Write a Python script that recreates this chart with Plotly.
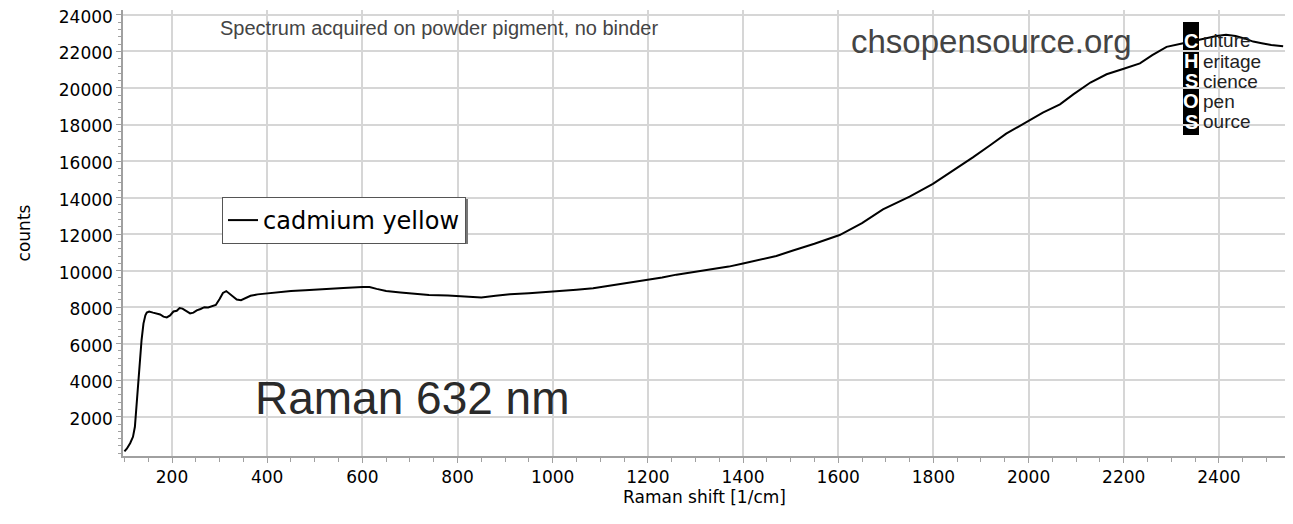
import plotly.graph_objects as go

# ---- data ----
raman_shift = [100, 105, 112, 118, 122, 126, 130, 133, 136, 140, 144, 147, 152, 160, 168, 175, 182, 189,
               196, 203, 210, 216, 222, 230, 238, 245, 252, 260, 268, 276, 284, 292, 300, 307, 314, 320,
               328, 336, 345, 355, 365, 380, 400, 420, 450, 480, 500, 530, 560, 600, 615, 630, 650, 680,
               710, 740, 780, 810, 850, 880, 910, 950, 1000, 1050, 1085, 1120, 1160, 1190, 1230, 1260,
               1295, 1330, 1370, 1400, 1435, 1470, 1505, 1550, 1603, 1650, 1694, 1750, 1799, 1840, 1883,
               1920, 1953, 1980, 2003, 2030, 2066, 2094, 2130, 2164, 2200, 2234, 2260, 2290, 2325, 2350,
               2373, 2395, 2415, 2435, 2455, 2472, 2490, 2510, 2535]
counts = [100, 250, 550, 900, 1450, 2800, 4300, 5400, 6200, 7100, 7550, 7700, 7760, 7700, 7650, 7600, 7480, 7440,
          7550, 7760, 7800, 7950, 7920, 7780, 7660, 7700, 7820, 7900, 8000, 7980, 8040, 8120, 8450, 8780, 8880, 8750,
          8550, 8420, 8380, 8500, 8620, 8700, 8750, 8820, 8880, 8930, 8950, 9000, 9050, 9110, 9100, 9000, 8880, 8800,
          8720, 8660, 8640, 8610, 8530, 8620, 8700, 8760, 8840, 8950, 9030, 9170, 9320, 9470, 9620, 9780,
          9930, 10080, 10220, 10390, 10600, 10800, 11100, 11470, 11950, 12600, 13350, 14050, 14750, 15450, 16200,
          16880, 17500, 17900, 18250, 18650, 19100, 19650, 20300, 20750, 21050, 21350, 21800, 22250, 22450, 22600,
          22720, 22850, 22920, 22850, 22700, 22540, 22450, 22350, 22280]
series_name = "cadmium yellow"
x_ticks = list(range(200, 2401, 200))
y_ticks = list(range(2000, 24001, 2000))

# ---- layout geometry (pixels; page body has an 8px margin) ----
OFF = 8
W, H = 1293 - OFF, 524 - OFF
# plot area in page pixels
PL, PR, PT, PB = 123, 1286, 10, 456
L, R, T, B = PL - OFF, PR - OFF, PT - OFF, PB - OFF


def px(xp):
    return (xp - PL) / (PR - PL)


def py(yp):
    return (PB - yp) / (PB - PT)


fig = go.Figure()
fig.add_trace(go.Scatter(x=raman_shift, y=counts, mode="lines", name=series_name,
                         line=dict(color="black", width=2)))

tick_font = dict(family="DejaVu Sans", size=17, color="black")
fig.update_layout(
    width=W, height=H,
    margin=dict(l=L, r=W - R, t=T, b=H - B, autoexpand=False),
    paper_bgcolor="white", plot_bgcolor="white",
    showlegend=True,
    legend=dict(x=px(222), y=py(197), xanchor="left", yanchor="top",
                bgcolor="white", bordercolor="#555555", borderwidth=1,
                font=dict(family="DejaVu Sans", size=24, color="black"),
                itemwidth=30, tracegroupgap=0),
    xaxis=dict(range=[97, 2541], tickvals=x_ticks, ticktext=[str(v) for v in x_ticks],
               showgrid=True, gridcolor="#d6d6d6", gridwidth=1.5,
               showline=True, linecolor="#a0a0a0", linewidth=1.5,
               ticks="outside", ticklen=5, tickcolor="#a0a0a0",
               minor=dict(dtick=50, ticks="outside", ticklen=4, tickcolor="#a0a0a0", showgrid=False),
               tickfont=tick_font, zeroline=False, automargin=False, ticklabeloverflow="allow",
               title=dict(text="Raman shift [1/cm]", font=dict(family="DejaVu Sans", size=17, color="black"),
                          standoff=5)),
    yaxis=dict(range=[-150, 24270], tickvals=y_ticks, ticktext=[str(v) for v in y_ticks],
               showgrid=True, gridcolor="#d6d6d6", gridwidth=1.5,
               showline=True, linecolor="#a0a0a0", linewidth=1.5,
               ticks="outside", ticklen=5, tickcolor="#a0a0a0",
               minor=dict(dtick=400, ticks="outside", ticklen=3, tickcolor="#a0a0a0", showgrid=False),
               tickfont=tick_font, zeroline=False, automargin=False, ticklabeloverflow="allow",
               ticklabelshift=2,
               title=dict(text="counts", font=dict(family="DejaVu Sans", size=17, color="black"),
                          standoff=24)),
)

# ---- legend shadow (drawn under the legend box) ----
fig.add_shape(type="rect", xref="paper", yref="paper", x0=px(224), x1=px(468), y0=py(244), y1=py(199),
              fillcolor="#777777", line=dict(width=0), layer="above")

# ---- text annotations ----
ann = [
    dict(text="Spectrum acquired on powder pigment, no binder", x=px(439), y=py(28), size=20, color="#444444"),
    dict(text="chsopensource.org", x=px(991), y=py(42), size=33, color="#444444"),
    dict(text="Raman 632 nm", x=px(412), y=py(398), size=46, color="#2a2a2a"),
]
for a in ann:
    fig.add_annotation(text=a["text"], xref="paper", yref="paper", x=a["x"], y=a["y"],
                       xanchor="center", yanchor="middle", showarrow=False,
                       font=dict(family="Liberation Sans", size=a["size"], color=a["color"]))

# ---- CHSOS logo ----
fig.add_shape(type="rect", xref="paper", yref="paper", x0=px(1183), x1=px(1199), y0=py(135), y1=py(22),
              fillcolor="black", line=dict(width=0), layer="below")
logo_letters = ["C", "H", "S", "O", "S"]
logo_words = ["ulture", "eritage", "cience", "pen", "ource"]
logo_y = [41, 61.5, 81.5, 101.5, 121.5]
for letter, word, yy in zip(logo_letters, logo_words, logo_y):
    fig.add_annotation(text="<b>" + letter + "</b>", xref="paper", yref="paper", x=px(1191), y=py(yy),
                       xanchor="center", yanchor="middle", showarrow=False,
                       font=dict(family="Liberation Sans", size=20, color="white"))
    fig.add_annotation(text=word, xref="paper", yref="paper", x=px(1201), y=py(yy),
                       xanchor="left", yanchor="middle", showarrow=False,
                       font=dict(family="Liberation Sans", size=19, color="#222222"))

fig.write_html("out.html")
